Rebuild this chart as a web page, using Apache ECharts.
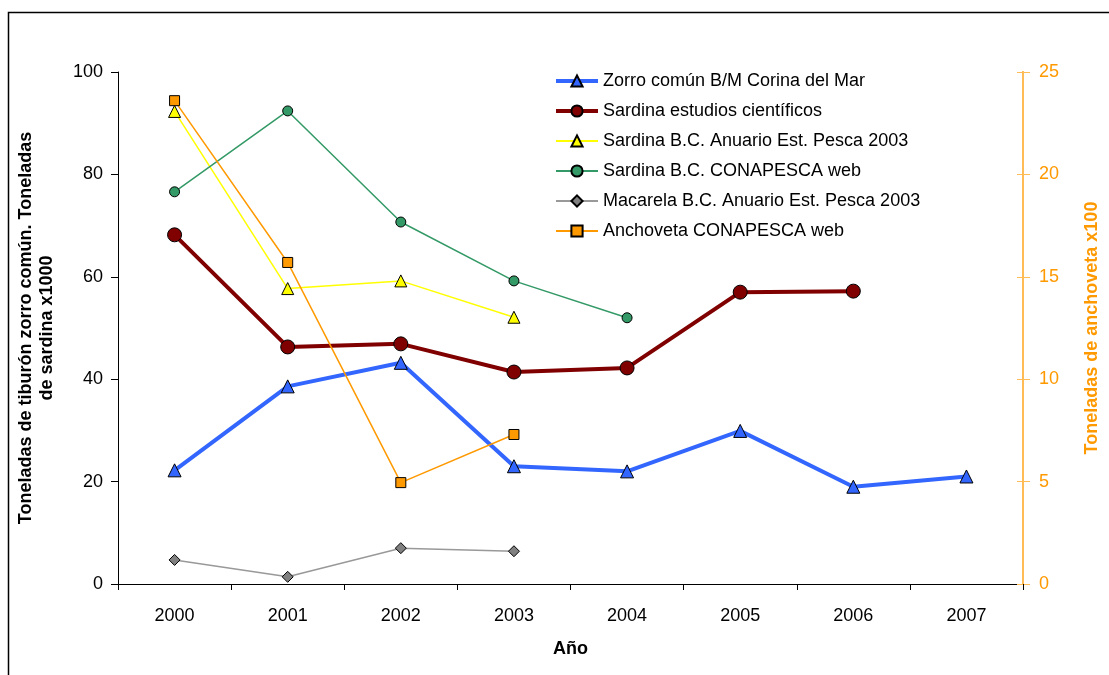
<!DOCTYPE html>
<html>
<head>
<meta charset="utf-8">
<script src="https://cdn.jsdelivr.net/npm/echarts@6/dist/echarts.min.js"></script>
<style>
html,body{margin:0;padding:0;background:#fff;}
#chart{width:1109px;height:675px;}
</style>
</head>
<body>
<div id="chart"></div>
<script>
const years = ['2000','2001','2002','2003','2004','2005','2006','2007'];
const zorro = [22.2, 38.6, 43.2, 23.0, 22.0, 29.9, 19.0, 21.0];
const sardinaEstudios = [68.2, 46.3, 46.9, 41.4, 42.2, 57.0, 57.2, null];
const sardinaAnuario = [92.3, 57.7, 59.2, 52.1, null, null, null, null];
const sardinaConapesca = [76.6, 92.4, 70.7, 59.2, 52.0, null, null, null];
const macarela = [4.7, 1.4, 7.0, 6.4, null, null, null, null];
const anchoveta = [23.6, 15.7, 4.95, 7.3, null, null, null, null];
const leftTicks = [0, 20, 40, 60, 80, 100];
const rightTicks = [0, 5, 10, 15, 20, 25];

const names = [
  'Zorro común B/M Corina del Mar',
  'Sardina estudios científicos',
  'Sardina B.C. Anuario Est. Pesca 2003',
  'Sardina B.C. CONAPESCA web',
  'Macarela B.C. Anuario Est. Pesca 2003',
  'Anchoveta CONAPESCA web'
];

const chart = echarts.init(document.getElementById('chart'));
const FONT = '"Liberation Sans", Arial, sans-serif';
const FS = 18;

function mk(name, data, opts) {
  return Object.assign({
    name: name,
    type: 'line',
    data: data,
    connectNulls: false,
    animation: false,
    z: 3
  }, opts);
}

chart.setOption({
  animation: false,
  textStyle: { fontFamily: FONT },
  graphic: [{
    type: 'rect',
    shape: { x: 8.5, y: 12.5, width: 1130, height: 700 },
    style: { fill: 'none', stroke: '#000', lineWidth: 1.5 },
    silent: true, z: 0
  }],
  grid: { left: 118, right: 86, top: 72, bottom: 91, containLabel: false },
  legend: {
    orient: 'vertical',
    left: 549,
    top: 67,
    itemWidth: 42,
    itemHeight: 14,
    itemGap: 12,
    textStyle: { fontSize: FS, color: '#000', fontFamily: FONT },
    data: [
      { name: names[0], lineStyle: { width: 4 } },
      { name: names[1], lineStyle: { width: 4 } },
      { name: names[2] },
      { name: names[3] },
      { name: names[4] },
      { name: names[5] }
    ]
  },
  xAxis: {
    type: 'category',
    data: years,
    boundaryGap: true,
    name: 'Año',
    nameLocation: 'middle',
    nameGap: 56,
    nameTextStyle: { fontSize: FS, fontWeight: 'bold', color: '#000', fontFamily: FONT },
    axisLine: { lineStyle: { color: '#000', width: 1 } },
    axisTick: { show: true, alignWithLabel: false, length: 6, lineStyle: { color: '#000' } },
    axisLabel: { fontSize: FS, color: '#000', margin: 23, fontFamily: FONT },
    splitLine: { show: false }
  },
  yAxis: [{
    type: 'value',
    min: 0, max: 100, interval: 20,
    position: 'left',
    name: 'Toneladas de tiburón zorro común. Toneladas\nde sardina x1000',
    nameLocation: 'middle',
    nameGap: 60,
    nameTextStyle: { fontSize: FS, fontWeight: 'bold', color: '#000', lineHeight: 21, fontFamily: FONT },
    axisLine: { show: true, lineStyle: { color: '#000', width: 1 } },
    axisTick: { show: true, length: 7, lineStyle: { color: '#000' } },
    axisLabel: { fontSize: FS, color: '#000', margin: 15, fontFamily: FONT,
      formatter: v => leftTicks.includes(v) ? String(v) : '' },
    splitLine: { show: false }
  }, {
    type: 'value',
    min: 0, max: 25, interval: 5,
    position: 'right',
    name: 'Toneladas de anchoveta x100',
    nameLocation: 'middle',
    nameGap: 60,
    nameRotate: 90,
    nameTextStyle: { fontSize: FS, fontWeight: 'bold', color: '#FF9900', fontFamily: FONT },
    axisLine: { show: true, lineStyle: { color: '#FFBB55', width: 2 } },
    axisTick: { show: true, inside: false, length: 7, lineStyle: { color: '#FFBB55' } },
    axisLabel: { fontSize: FS, color: '#FF9900', margin: 16, fontFamily: FONT,
      formatter: v => rightTicks.includes(v) ? String(v) : '' },
    splitLine: { show: false }
  }, {
    type: 'value',
    min: 0, max: 25, interval: 5,
    position: 'right',
    axisLine: { show: true, lineStyle: { color: '#FFBB55', width: 2 } },
    axisTick: { show: true, inside: true, length: 6, lineStyle: { color: '#FFBB55' } },
    axisLabel: { show: false },
    splitLine: { show: false }
  }],
  series: [
    mk(names[0], zorro, {
      symbol: 'triangle', symbolSize: 13,
      lineStyle: { color: '#3366FF', width: 4 },
      itemStyle: { color: '#3366FF', borderColor: '#000', borderWidth: 1 },
      z: 5
    }),
    mk(names[1], sardinaEstudios, {
      symbol: 'circle', symbolSize: 14,
      lineStyle: { color: '#800000', width: 4 },
      itemStyle: { color: '#800000', borderColor: '#000', borderWidth: 1 },
      z: 4
    }),
    mk(names[2], sardinaAnuario, {
      symbol: 'triangle', symbolSize: 12,
      lineStyle: { color: '#FFFF00', width: 1.5 },
      itemStyle: { color: '#FFFF00', borderColor: '#000', borderWidth: 1 }
    }),
    mk(names[3], sardinaConapesca, {
      symbol: 'circle', symbolSize: 10,
      lineStyle: { color: '#339966', width: 1.5 },
      itemStyle: { color: '#339966', borderColor: '#000', borderWidth: 1 }
    }),
    mk(names[4], macarela, {
      symbol: 'diamond', symbolSize: 11,
      lineStyle: { color: '#999999', width: 1.5 },
      itemStyle: { color: '#808080', borderColor: '#000', borderWidth: 1 }
    }),
    mk(names[5], anchoveta, {
      yAxisIndex: 1,
      symbol: 'rect', symbolSize: 10,
      lineStyle: { color: '#FF9900', width: 1.5 },
      itemStyle: { color: '#FF9900', borderColor: '#000', borderWidth: 1 },
      z: 6
    })
  ]
});
</script>
</body>
</html>
